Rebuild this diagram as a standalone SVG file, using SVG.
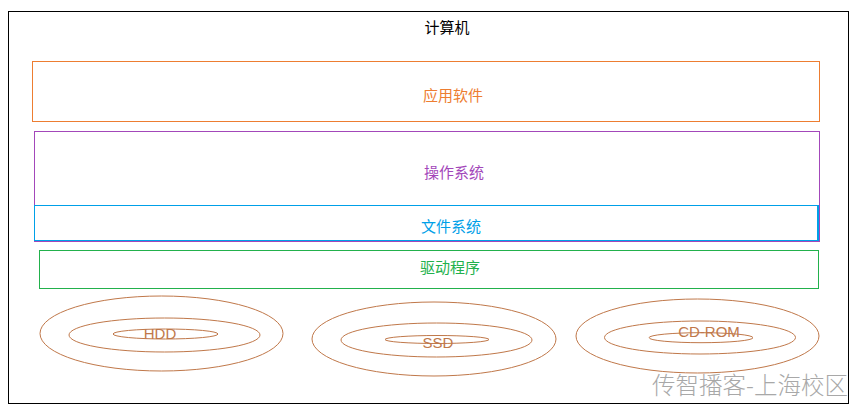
<svg xmlns="http://www.w3.org/2000/svg" width="858" height="407" viewBox="0 0 858 407">
<style>
text{font-family:"Noto Sans CJK SC","Liberation Sans",sans-serif;font-size:15px;text-anchor:middle}
.box{fill:none;stroke-width:1}
.disk{fill:none;stroke:#C0784A;stroke-width:1}
.dl{fill:#C0784A;font-family:"Liberation Sans","Noto Sans CJK SC",sans-serif;font-size:15px}
</style>
<rect width="858" height="407" fill="#fff"/>
<g id="computer">
<rect x="8.5" y="11.5" width="840" height="392" fill="none" stroke="#000" stroke-width="1"/>
<text x="447" y="33" fill="#000">计算机</text>
</g>
<g id="app">
<rect class="box" x="32.5" y="61.5" width="787" height="60" stroke="#ED7D31"/>
<text x="453" y="101" fill="#ED7D31">应用软件</text>
</g>
<g id="os">
<rect class="box" x="34.5" y="131.5" width="785" height="110" stroke="#A347BA"/>
<text x="454" y="178" fill="#A347BA">操作系统</text>
</g>
<g id="fs">
<rect x="34.5" y="205.5" width="784" height="35" fill="none" stroke="#00A0E8" stroke-width="1"/>
<line x1="818" y1="205" x2="818" y2="241" stroke="#00A0E8" stroke-width="2"/>
<text x="451" y="232" fill="#00A0E8">文件系统</text>
</g>
<g id="driver">
<rect class="box" x="39.5" y="250.5" width="779" height="38" stroke="#22B14C"/>
<text x="450" y="273" fill="#22B14C">驱动程序</text>
</g>
<g id="hdd">
<ellipse class="disk" cx="161.5" cy="333.5" rx="121.5" ry="37.5"/>
<ellipse class="disk" cx="164.5" cy="335" rx="95.5" ry="17"/>
<ellipse class="disk" cx="165.5" cy="334" rx="52.5" ry="5"/>
<text class="dl" x="160" y="339">HDD</text>
</g>
<g id="ssd">
<ellipse class="disk" cx="434" cy="339" rx="122" ry="37"/>
<ellipse class="disk" cx="436.5" cy="340" rx="95.5" ry="17"/>
<ellipse class="disk" cx="437" cy="339.5" rx="52" ry="4"/>
<text class="dl" x="438" y="348">SSD</text>
</g>
<g id="cdrom">
<ellipse class="disk" cx="697.5" cy="336" rx="121.5" ry="37"/>
<ellipse class="disk" cx="700" cy="337.5" rx="95.5" ry="16.5"/>
<ellipse class="disk" cx="701" cy="337.7" rx="52" ry="5"/>
<text class="dl" x="709" y="337">CD-ROM</text>
</g>
<g id="connectors"></g>
<text x="750" y="394" fill="#A8A8A8" style="font-size:23.5px;font-weight:300">传智播客-上海校区</text>
</svg>
